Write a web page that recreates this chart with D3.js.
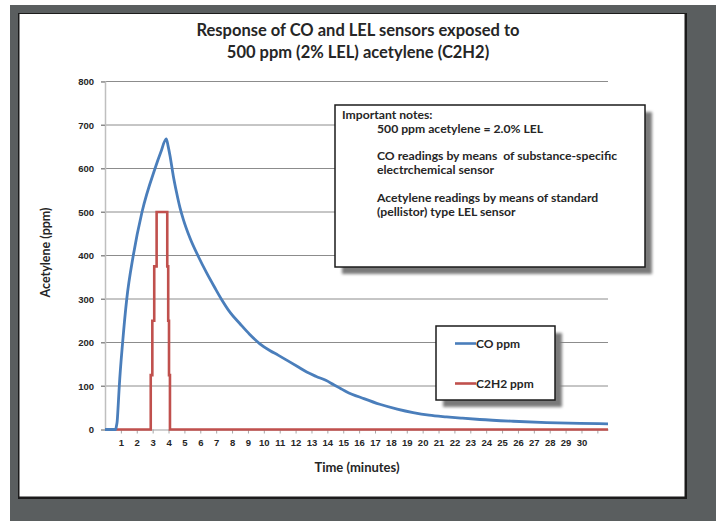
<!DOCTYPE html>
<html>
<head>
<meta charset="utf-8">
<script src="https://cdn.jsdelivr.net/npm/d3@7"></script>
<style>
    html, body { margin: 0; padding: 0; background: #fff; }
    #chart { width: 716px; height: 521px; overflow: hidden; }
</style>
</head>
<body>
<div id="chart"></div>
<script>
// CO sensor reading (ppm) against time (minutes)
const coTime = [0, 0.67, 0.72, 0.77, 0.83, 0.9, 1.11, 1.37, 1.78, 2.33, 3.15, 3.5, 3.86,
    3.97, 4.09, 4.3, 4.5, 4.72, 4.93, 5.35, 5.9, 6.4, 6.9, 7.34, 7.9, 8.5, 9.1, 9.75, 10.4, 10.9,
    11.6, 12.2, 12.7, 13.3, 13.9, 14.4, 14.8, 15.2, 16.3, 17.3, 18.4, 19.4, 20.4, 21.5, 22.5, 23.6,
    25.7, 27.8, 29.9, 31.67];
const coPpm = [0, 0, 8, 20, 55, 100, 200, 300, 400, 500, 600, 636, 668,
    652, 630, 583, 546, 510, 483, 440, 396, 360, 327, 299, 268, 243, 219, 197, 181, 171,
    156, 143, 132, 122, 113, 103, 95, 87, 71, 58, 47, 39, 33, 29, 26, 23,
    19, 16, 14, 13];

// Acetylene (pellistor LEL sensor) reading, held until the next time
const c2h2Time = [0, 2.88, 2.98, 3.10, 3.25, 3.92, 3.98, 4.03, 4.09, 31.67];
const c2h2Ppm = [0, 125, 250, 375, 500, 375, 250, 125, 0, 0];

const yTicks = [0, 100, 200, 300, 400, 500, 600, 700, 800];
const xTicks = [1, 2, 3, 4, 5, 6, 7, 8, 9, 10, 11, 12, 13, 14, 15, 16, 17, 18, 19, 20,
    21, 22, 23, 24, 25, 26, 27, 28, 29, 30, 31];
const xTickLabels = ['1', '2', '3', '4', '5', '6', '7', '8', '9', '10', '11', '12', '13', '14', '15',
    '16', '17', '18', '19', '20', '21', '22', '23', '24', '25', '26', '27', '28', '29', '30', ''];

const seriesNames = ['CO ppm', 'C2H2 ppm'];
const titleLines = ['Response of CO and LEL sensors exposed to', '500 ppm (2% LEL) acetylene (C2H2)'];
const noteLines = [
    { text: 'Important notes:', indent: 0 },
    { text: '500 ppm acetylene = 2.0% LEL', indent: 1 },
    { text: '', indent: 1 },
    { text: 'CO readings by means  of substance-specific', indent: 1 },
    { text: 'electrchemical sensor', indent: 1 },
    { text: '', indent: 1 },
    { text: 'Acetylene readings by means of standard', indent: 1 },
    { text: '(pellistor) type LEL sensor', indent: 1 }
];

class Chart {
    constructor() {
        const attrs = {
            container: '#chart',
            svgWidth: 716,
            svgHeight: 521,
            marginLeft: 105,
            marginTop: 81.5,
            plotWidth: 503,
            plotHeight: 348,
            font: 'Lato, Carlito, Calibri, sans-serif',
            textFill: '#262626',
            coColor: '#4a7ebb',
            c2h2Color: '#c0504d',
            gridColor: '#8c8c8c',
            axisColor: '#bfbfbf'
        };
        this.getState = () => attrs;
        this.setState = (d) => Object.assign(attrs, d);
    }

    render() {
        this.drawSvgAndWrappers();
        this.calculateScales();
        this.drawTitle();
        this.drawGridAndAxes();
        this.drawLines();
        this.drawNotes();
        this.drawLegend();
        return this;
    }

    drawSvgAndWrappers() {
        const { container, svgWidth, svgHeight, font } = this.getState();

        const svg = d3.select(container).append('svg')
            .attr('width', svgWidth)
            .attr('height', svgHeight)
            .attr('font-family', font)
            .style('display', 'block');

        const defs = svg.append('defs');
        defs.append('filter')
            .attr('id', 'boxShadow')
            .attr('x', '-10%').attr('y', '-10%')
            .attr('width', '130%').attr('height', '130%')
            .append('feGaussianBlur')
            .attr('stdDeviation', 1.6);

        // grey surround with the white chart sheet on it
        svg.append('rect')
            .attr('x', 10).attr('y', 5)
            .attr('width', svgWidth - 10).attr('height', svgHeight - 5)
            .attr('fill', '#5a5e5f');
        svg.append('rect')
            .attr('x', 18).attr('y', 13)
            .attr('width', 669).attr('height', 486)
            .attr('fill', '#1b1b1b');
        svg.append('rect')
            .attr('x', 19.5).attr('y', 14)
            .attr('width', 665).attr('height', 482.5)
            .attr('fill', '#fff');

        const chart = svg.append('g').attr('class', 'chart');
        this.setState({ svg, chart });
    }

    calculateScales() {
        const { marginLeft, marginTop, plotWidth, plotHeight } = this.getState();
        const x = d3.scaleLinear()
            .domain([0, d3.max(coTime)])
            .range([marginLeft, marginLeft + plotWidth]);
        const y = d3.scaleLinear()
            .domain([0, d3.max(yTicks)])
            .range([marginTop + plotHeight, marginTop]);
        this.setState({ x, y });
    }

    drawTitle() {
        const { chart, textFill } = this.getState();
        chart.append('g').attr('class', 'title')
            .selectAll('text')
            .data(titleLines)
            .join('text')
            .attr('x', 358)
            .attr('y', (d, i) => 36 + i * 21.5)
            .attr('text-anchor', 'middle')
            .attr('font-size', 16.5)
            .attr('font-weight', 700)
            .attr('fill', textFill)
            .text(d => d);
    }

    drawGridAndAxes() {
        const { chart, x, y, gridColor, axisColor, textFill, marginLeft, plotWidth } = this.getState();

        // horizontal gridlines, with their little tick stubs left of the axis
        chart.append('g').attr('class', 'grid')
            .selectAll('line')
            .data(yTicks.filter(d => d > 0))
            .join('line')
            .attr('x1', marginLeft - 4)
            .attr('x2', marginLeft + plotWidth)
            .attr('y1', d => y(d))
            .attr('y2', d => y(d))
            .attr('stroke', gridColor)
            .attr('stroke-width', 1);

        // y axis
        const yAxis = chart.append('g')
            .attr('class', 'y-axis')
            .attr('transform', `translate(${marginLeft},0)`)
            .call(d3.axisLeft(y).tickValues(yTicks).tickSize(4).tickPadding(7));
        yAxis.select('.domain').attr('stroke', axisColor).attr('stroke-width', 1.5);
        yAxis.selectAll('.tick line').attr('stroke', gridColor);
        yAxis.selectAll('.tick text')
            .attr('font-size', 9.5)
            .attr('font-weight', 700)
            .attr('font-family', null)
            .attr('fill', textFill);

        // x axis
        const xAxis = chart.append('g')
            .attr('class', 'x-axis')
            .attr('transform', `translate(0,${y(0)})`)
            .call(d3.axisBottom(x).tickValues(xTicks).tickSize(4).tickPadding(6)
                .tickFormat((d, i) => xTickLabels[i]).tickSizeOuter(0));
        xAxis.select('.domain').attr('stroke', axisColor).attr('stroke-width', 1.5);
        xAxis.selectAll('.tick line').attr('stroke', '#a6a6a6');
        xAxis.selectAll('.tick text')
            .attr('font-size', 9.5)
            .attr('font-weight', 700)
            .attr('font-family', null)
            .attr('fill', textFill);

        // axis titles
        chart.append('text')
            .attr('class', 'y-title')
            .attr('transform', `translate(50,${y(400) - 3}) rotate(-90)`)
            .attr('text-anchor', 'middle')
            .attr('font-size', 12.5)
            .attr('font-weight', 700)
            .attr('fill', textFill)
            .text('Acetylene (ppm)');
        chart.append('text')
            .attr('class', 'x-title')
            .attr('x', 357)
            .attr('y', 472)
            .attr('text-anchor', 'middle')
            .attr('font-size', 13)
            .attr('font-weight', 700)
            .attr('fill', textFill)
            .text('Time (minutes)');
    }

    drawLines() {
        const { chart, x, y, coColor, c2h2Color } = this.getState();

        const coLine = d3.line()
            .x(d => x(d[0]))
            .y(d => y(d[1]))
            .curve(d3.curveMonotoneX);
        const c2h2Line = d3.line()
            .x(d => x(d[0]))
            .y(d => y(d[1]))
            .curve(d3.curveStepAfter);

        chart.append('path')
            .attr('class', 'c2h2-line')
            .datum(d3.zip(c2h2Time, c2h2Ppm))
            .attr('fill', 'none')
            .attr('stroke', c2h2Color)
            .attr('stroke-width', 2.6)
            .attr('d', c2h2Line);

        chart.append('path')
            .attr('class', 'co-line')
            .datum(d3.zip(coTime, coPpm))
            .attr('fill', 'none')
            .attr('stroke', coColor)
            .attr('stroke-width', 2.8)
            .attr('stroke-linejoin', 'round')
            .attr('d', coLine);
    }

    drawBox(cls, bx, by, bw, bh) {
        const { chart } = this.getState();
        const g = chart.append('g').attr('class', cls);
        g.append('rect')
            .attr('class', cls + '-shadow')
            .attr('x', bx + 7).attr('y', by + 7)
            .attr('width', bw).attr('height', bh)
            .attr('fill', '#7a7a7a')
            .attr('filter', 'url(#boxShadow)');
        g.append('rect')
            .attr('class', cls + '-box')
            .attr('x', bx).attr('y', by)
            .attr('width', bw).attr('height', bh)
            .attr('fill', '#fff')
            .attr('stroke', '#1b1b1b')
            .attr('stroke-width', 1.5);
        return g;
    }

    drawNotes() {
        const { textFill } = this.getState();
        const g = this.drawBox('notes', 335, 105, 310, 162);
        g.selectAll('text.note')
            .data(noteLines)
            .join('text')
            .attr('class', 'note')
            .attr('x', d => d.indent ? 377 : 342)
            .attr('y', (d, i) => 119 + i * 13.8)
            .attr('font-size', 12.2)
            .attr('font-weight', 700)
            .attr('fill', textFill)
            .style('white-space', 'pre')
            .text(d => d.text);
    }

    drawLegend() {
        const { coColor, c2h2Color, textFill } = this.getState();
        const colors = [coColor, c2h2Color];
        const g = this.drawBox('legend', 436, 326, 119, 74);
        const items = g.selectAll('g.item')
            .data(seriesNames)
            .join('g')
            .attr('class', 'item')
            .attr('transform', (d, i) => `translate(455,${343.5 + i * 40})`);
        items.append('line')
            .attr('x1', 0).attr('x2', 21)
            .attr('stroke', (d, i) => colors[i])
            .attr('stroke-width', 2.6);
        items.append('text')
            .attr('x', 21)
            .attr('dy', '0.35em')
            .attr('font-size', 12)
            .attr('font-weight', 700)
            .attr('fill', textFill)
            .text(d => d);
    }
}

new Chart().render();
</script>
</body>
</html>
